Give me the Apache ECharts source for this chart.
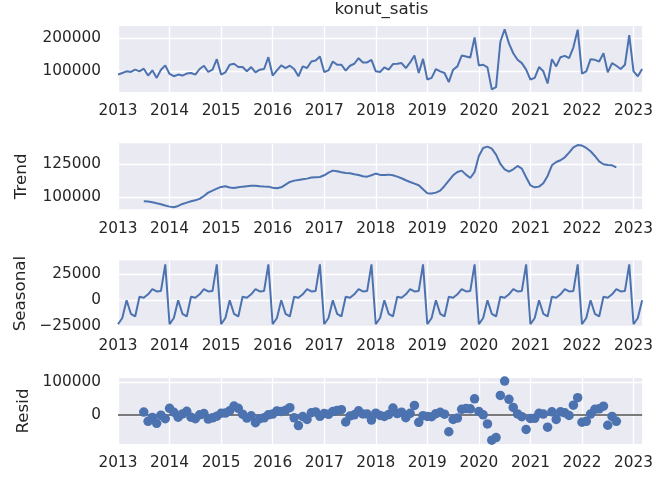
<!DOCTYPE html>
<html><head><meta charset="utf-8">
<script src="https://cdn.jsdelivr.net/npm/echarts@6/dist/echarts.min.js"></script>
<style>html,body{margin:0;padding:0;background:#fff}#c{width:656px;height:482px}</style>
</head><body><div id="c"></div>
<script>
// ---- data ----
const dates = [
 '2013-01','2013-02','2013-03','2013-04','2013-05','2013-06','2013-07','2013-08','2013-09','2013-10','2013-11','2013-12',
 '2014-01','2014-02','2014-03','2014-04','2014-05','2014-06','2014-07','2014-08','2014-09','2014-10','2014-11','2014-12',
 '2015-01','2015-02','2015-03','2015-04','2015-05','2015-06','2015-07','2015-08','2015-09','2015-10','2015-11','2015-12',
 '2016-01','2016-02','2016-03','2016-04','2016-05','2016-06','2016-07','2016-08','2016-09','2016-10','2016-11','2016-12',
 '2017-01','2017-02','2017-03','2017-04','2017-05','2017-06','2017-07','2017-08','2017-09','2017-10','2017-11','2017-12',
 '2018-01','2018-02','2018-03','2018-04','2018-05','2018-06','2018-07','2018-08','2018-09','2018-10','2018-11','2018-12',
 '2019-01','2019-02','2019-03','2019-04','2019-05','2019-06','2019-07','2019-08','2019-09','2019-10','2019-11','2019-12',
 '2020-01','2020-02','2020-03','2020-04','2020-05','2020-06','2020-07','2020-08','2020-09','2020-10','2020-11','2020-12',
 '2021-01','2021-02','2021-03','2021-04','2021-05','2021-06','2021-07','2021-08','2021-09','2021-10','2021-11','2021-12',
 '2022-01','2022-02','2022-03','2022-04','2022-05','2022-06','2022-07','2022-08','2022-09','2022-10','2022-11','2022-12',
 '2023-01','2023-02','2023-03'
];
const observed = [
 90000, 95000,100000, 98000,105000,100000,108000, 87000,103000, 80000,105000,118000,
 92000, 85000, 90000, 87000, 93000, 95000, 90000,107000,117000, 98000,105000,137000,
 90000, 97000,120000,123000,113000,113000,100000,113000, 97000,105000,107000,143000,
 87000,103000,118000,110000,117000,107000, 85000,115000,110000,130000,133000,145000,
 98000,103000,130000,120000,120000,102000,117000,123000,140000,127000,127000,135000,
100000, 98000,112000,105000,122000,123000,125000,110000,127000,148000, 95000,138000,
 75000, 80000,107000,100000, 95000, 67000,105000,115000,148000,145000,142000,203000,
118000,120000,112000, 45000, 52000,190000,228000,185000,155000,135000,125000,105000,
 75000, 80000,113000,100000, 63000,137000,115000,143000,147000,140000,173000,227000,
 93000,100000,137000,135000,130000,155000, 97000,125000,117000,107000,120000,210000,
100000, 85000,107000
];
// trend and resid are defined from 2013-07 to 2022-09
const trendResidStart = '2013-07';
const trend = [
 97000, 96800, 96300, 95500, 94800, 93800,
 93000, 92500, 93500, 95000, 96000, 97000, 97800, 98800,101000,103500,105000,106500,
107800,108300,107300,107000,107500,108000,108300,108600,108700,108300,108100,108000,
107200,106800,107500,109500,111500,112500,113000,113500,114000,114800,115000,115200,
116500,118500,120000,119500,118800,118300,118000,117300,116700,115800,115500,116500,
117800,116800,116700,117000,116500,115500,114300,112800,111500,110300,109000,106000,
103000,102800,103500,105000,108500,112500,116500,119000,120000,117000,114500,119000,
131000,137000,138000,136500,132000,125000,121000,119300,121000,123500,121500,115000,
109000,107500,108000,110500,116000,124000,126500,127800,130000,133500,137500,139200,
138800,137000,134500,131000,127000,124800,124300,124000,122500
];
// seasonal component by calendar month (Jan..Dec)
const seasonalByMonth = [-23000,-17000,0,-13000,-15500,3500,2500,5800,10800,8500,9000,34500];
const resid = [
  8500,-20000, -8000,-26000, -1000,-12000,
 20000,  8000, -7000,  3000, 11000, -7000,-12000,     0,  4000,-13000, -9000, -4000,
  5000,  5500, 12500, 27000, 20000,  2000,-10000, -3000,-24000,-12000, -9000,     0,
  2500, 12000, 10000, 14000, 22000, -9000,-33000, -5000,-14000,  6500,  9000, -4500,
  4500,  1500, 10000, 13500, 16000,-22000, -3500,     0, 12500,  2700,  2500,-16000,
  5200, -1800, -4700,  1000, 21000,  4000,  8200, -8600,  4700, 29200,-23000, -2500,
 -5000, -5800,  3500,  8000,  2000,-52000,-14000, -9800, 17200, 19500, 18500, 49500,
 10000,     0,-28000,-78000,-70000, 60000,104000, 48000, 23000,  3000, -5500,-45000,
-11000,-10500,  5000,  2500,-38000,  9500,-14000,  9400,  6200, -2000, 30000, 53000,
-22800,-20000,  2500, 17000, 18500, 26700,-32000, -4800,-20000
];
const yearLabels = ['2013','2014','2015','2016','2017','2018','2019','2020','2021','2022','2023'];
const titleText = 'konut_satis';
const panelNames = ['Trend','Seasonal','Resid'];

// ---- helpers ----
const baseYear = parseInt(yearLabels[0], 10);
const monthIndex = d => (parseInt(d.slice(0,4),10) - baseYear) * 12 + parseInt(d.slice(5,7),10) - 1;
const xMax = monthIndex(dates[dates.length - 1]);
const startIdx = dates.indexOf(trendResidStart);

const obsData = dates.map((d, i) => [monthIndex(d), observed[i]]);
const trendData = trend.map((v, k) => [monthIndex(dates[startIdx + k]), v]);
const seasData = dates.map(d => [monthIndex(d), seasonalByMonth[parseInt(d.slice(5,7),10) - 1]]);
const residData = resid.map((v, k) => [monthIndex(dates[startIdx + k]), v]);

const FONT = 'DejaVu Sans';
const TXT = '#262626';
const BLUE = '#4C72B0';
const tops = [26, 143.3, 260.6, 378];
const H = 66;

const grids = tops.map(t => ({left: 118, right: 11, top: t, height: H, show: true,
  backgroundColor: '#EAEAF2', borderWidth: 0, containLabel: false}));

const xAxes = tops.map((t, gi) => ({
  type: 'value', gridIndex: gi, min: 0, max: xMax, interval: 12,
  axisLine: {show: false}, axisTick: {show: false},
  splitLine: {show: true, showMinLine: true, showMaxLine: false, lineStyle: {color: '#ffffff', width: 1.3}},
  axisLabel: {margin: 12, fontSize: 15.3, color: TXT, fontFamily: FONT,
    formatter: v => (v % 12 === 0 ? yearLabels[v / 12] || '' : '')}
}));

function yAxis(gi, min, max, iv) {
  return {
    type: 'value', gridIndex: gi, min: min, max: max,
    minInterval: iv, maxInterval: iv, splitNumber: Math.max(1, Math.round((max - min) / iv)),
    axisLine: {show: false}, axisTick: {show: false},
    splitLine: {show: true, showMinLine: false, showMaxLine: false, lineStyle: {color: '#ffffff', width: 1.3}},
    axisLabel: {margin: 17, fontSize: 15.3, color: TXT, fontFamily: FONT, showMinLabel: false, showMaxLabel: false,
      formatter: v => (Math.abs(v % iv) < 1e-6 ? String(v).replace('-', '\u2212') : '')}
  };
}
const yAxes = [
  yAxis(0, 37000, 238000, 100000),
  yAxis(1, 91000, 140500, 25000),
  yAxis(2, -25300, 38200, 25000),
  yAxis(3, -89800, 113600, 100000)
];

const lineStyle = {color: BLUE, width: 2};
const series = [
  {type: 'line', xAxisIndex: 0, yAxisIndex: 0, data: obsData, showSymbol: false, lineStyle, z: 3, animation: false},
  {type: 'line', xAxisIndex: 1, yAxisIndex: 1, data: trendData, showSymbol: false, lineStyle, z: 3, animation: false},
  {type: 'line', xAxisIndex: 2, yAxisIndex: 2, data: seasData, showSymbol: false, lineStyle, z: 3, animation: false},
  {type: 'scatter', xAxisIndex: 3, yAxisIndex: 3, data: residData, symbolSize: 9.5, z: 3,
    itemStyle: {color: BLUE, opacity: 1}, animation: false,
    markLine: {silent: true, symbol: 'none', z: 1, animation: false, label: {show: false},
      lineStyle: {color: '#7a7a7a', width: 1.8, type: 'solid'}, data: [{yAxis: 0}]}}
];

const graphics = [
  {type: 'text', left: null, x: 381.5, y: 10, style: {text: titleText, x: 0, y: 0, fill: TXT,
    font: '16.7px "' + FONT + '"', textAlign: 'center', textVerticalAlign: 'middle'}}
];
const nameCenters = [[22, tops[1] + H / 2], [21, tops[2] + H / 2], [24, tops[3] + H / 2]];
panelNames.forEach((n, k) => {
  graphics.push({type: 'text', x: nameCenters[k][0], y: nameCenters[k][1], rotation: Math.PI / 2,
    style: {text: n, x: 0, y: 0, fill: TXT, font: '16.7px "' + FONT + '"', textAlign: 'center', textVerticalAlign: 'middle'}});
});

const chart = echarts.init(document.getElementById('c'), null, {renderer: 'canvas'});
chart.setOption({
  animation: false,
  backgroundColor: '#ffffff',
  grid: grids, xAxis: xAxes, yAxis: yAxes, series: series, graphic: graphics
});
</script>
</body></html>
